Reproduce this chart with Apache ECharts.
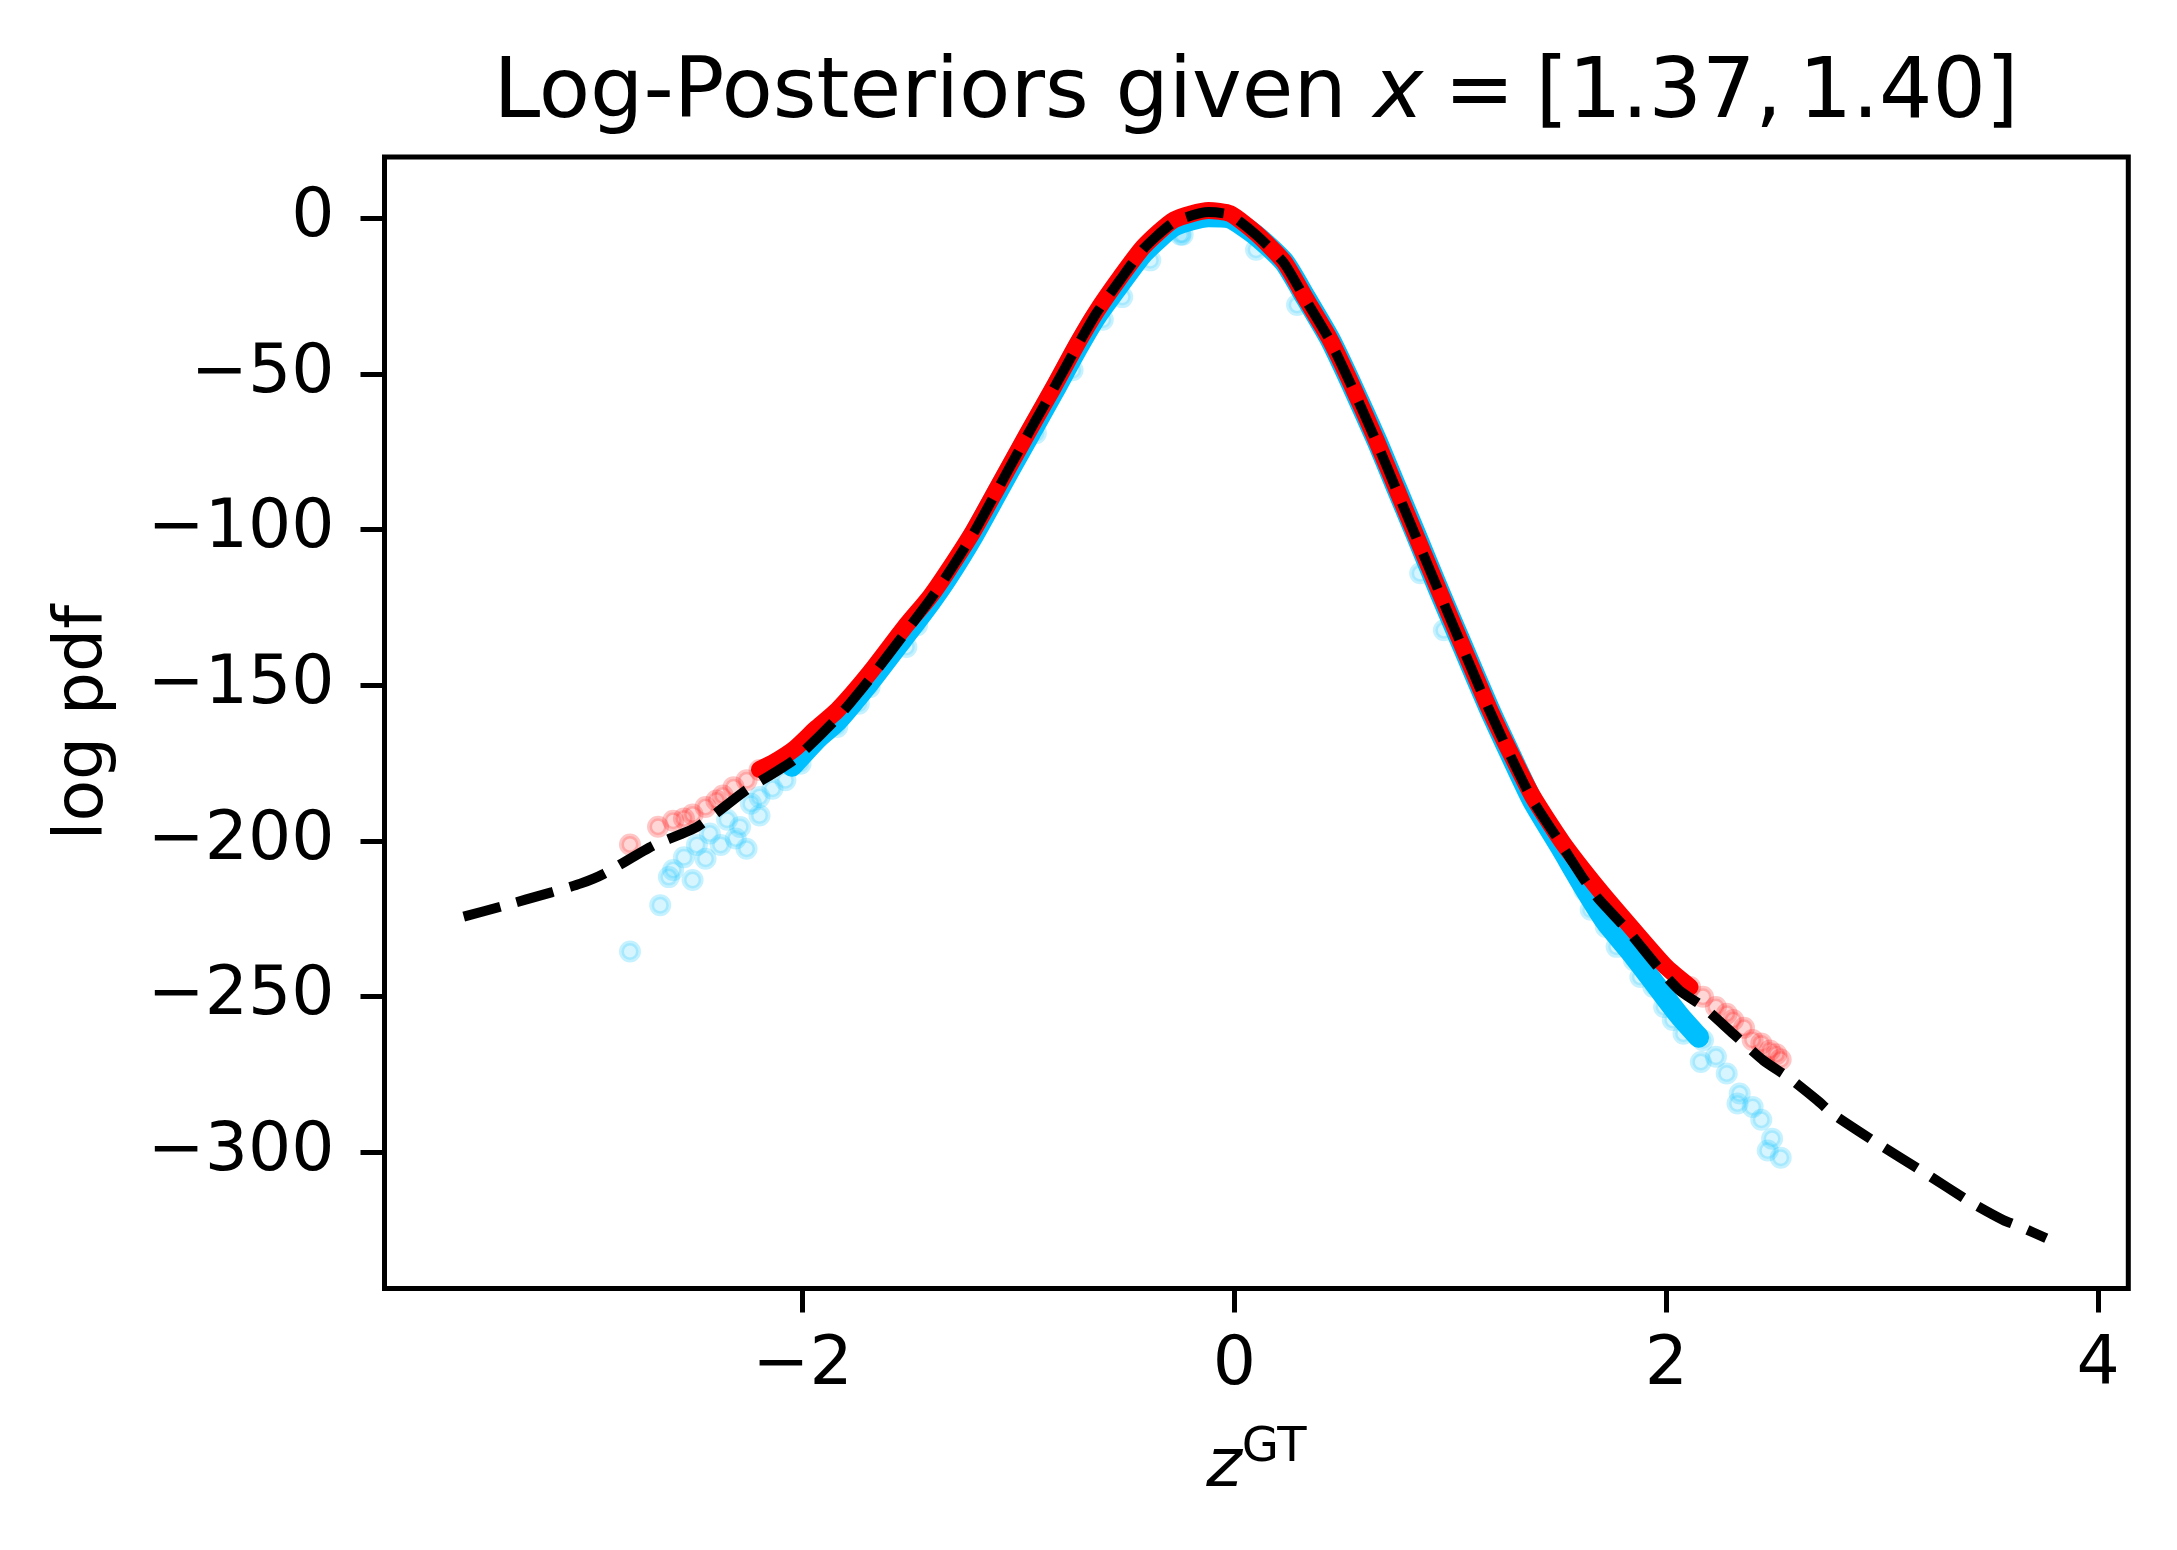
<!DOCTYPE html>
<html>
<head>
<meta charset="utf-8">
<title>Log-Posteriors</title>
<script src="https://cdn.jsdelivr.net/npm/echarts@6.0.0/dist/echarts.min.js"></script>
<style>
  html, body { margin: 0; padding: 0; background: #fff; }
  #chart { width: 2177px; height: 1550px; }
</style>
</head>
<body>
<div id="chart"></div>
<script>
// tick labels
const xTicks = [-2, 0, 2, 4];
const yTicks = [0, -50, -100, -150, -200, -250, -300];

// true log posterior (black dashed), [z, log pdf]
const truePosterior = [
  [-3.57, -224.3], [-3.40, -221.1], [-3.16, -216.4], [-3.03, -213.7], [-2.92, -210.5],
  [-2.69, -201.4], [-2.49, -195.5], [-2.26, -183.6], [-2.04, -173.9], [-1.84, -160.5],
  [-1.69, -148.0], [-1.53, -133.5], [-1.41, -122.5], [-1.33, -114.5], [-1.21, -101.3],
  [-1.09, -86.2], [-0.99, -73.5], [-0.93, -66.0], [-0.84, -55.0], [-0.73, -41.2],
  [-0.64, -30.5], [-0.53, -19.8], [-0.42, -9.7], [-0.28, -1.2], [-0.12, 2.0],
  [-0.02, 1.1], [0.10, -5.3], [0.23, -14.4], [0.33, -26.2], [0.44, -39.0],
  [0.54, -53.5], [0.66, -72.2], [0.75, -87.2], [0.84, -102.2], [0.95, -120.4],
  [1.06, -138.5], [1.18, -157.9], [1.28, -172.9], [1.38, -186.8], [1.51, -200.7],
  [1.62, -212.5], [1.69, -218.9], [1.82, -228.6], [1.96, -240.4], [2.06, -247.9],
  [2.17, -253.2], [2.31, -261.9], [2.45, -270.5], [2.57, -276.1], [2.70, -283.3],
  [2.77, -287.6], [2.98, -297.2], [3.19, -306.3], [3.41, -316.0], [3.56, -321.7],
  [3.64, -323.9], [3.76, -327.6]
];

// dense core of the approximate samples (blue), drawn as a band
const blueCore = [
  [-2.05, -176], [-1.93, -167], [-1.84, -161.5], [-1.69, -149], [-1.53, -134.5],
  [-1.41, -123.5], [-1.33, -115.5], [-1.21, -102], [-1.09, -87], [-0.99, -74.5],
  [-0.84, -56], [-0.73, -42], [-0.64, -31.5], [-0.53, -21], [-0.42, -11],
  [-0.28, -2.5], [-0.12, 0.5], [-0.02, 0], [0.10, -5.5], [0.23, -14],
  [0.33, -25.5], [0.44, -38.5], [0.54, -53], [0.66, -71.5], [0.75, -86.5],
  [0.84, -101.5], [0.95, -120], [1.06, -138], [1.18, -157.5], [1.28, -172.5],
  [1.38, -187], [1.51, -202], [1.62, -215], [1.72, -226], [1.85, -237],
  [1.96, -247], [2.06, -256], [2.15, -263]
];

// sparse approximate samples (blue rings)
const blueSamples = [
  [-2.80, -235.5], [-2.66, -220.6], [-2.60, -209.3], [-2.62, -211.6], [-2.51, -212.5],
  [-2.55, -205.2], [-2.45, -205.7], [-2.49, -201.3], [-2.43, -197.6], [-2.38, -201.3],
  [-2.31, -199.2], [-2.26, -202.5], [-2.35, -193.2], [-2.29, -195.5], [-2.24, -188.0],
  [-2.20, -191.8], [-2.20, -185.9], [-2.14, -183.2], [-2.08, -180.5], [-2.01, -175.2],
  [-1.84, -163.4], [-1.74, -155.9], [-1.69, -150.6], [-1.52, -137.7], [-1.47, -130.7],
  [-0.92, -69.0], [-0.75, -48.8], [-0.61, -32.6], [-0.52, -25.3], [-0.39, -13.5],
  [-0.25, -5.3], [-0.24, -5.3], [0.10, -10.1], [0.29, -27.8], [0.86, -114.0],
  [0.97, -132.3],
  [1.62, -215.7], [1.65, -222.1], [1.72, -227.6], [1.77, -234.0], [1.85, -238.3],
  [1.88, -243.7], [1.94, -246.9], [1.99, -253.3], [2.03, -257.5], [2.08, -261.9],
  [2.17, -264.0], [2.16, -271.0], [2.23, -269.3], [2.28, -274.7], [2.34, -281.1],
  [2.33, -284.3], [2.40, -285.4], [2.44, -289.5], [2.49, -295.6], [2.47, -299.4],
  [2.53, -301.7]
];

// dense core of the reference samples (red), drawn as a band
const redCore = [
  [-2.20, -177], [-2.14, -175], [-2.04, -170.5], [-1.94, -164], [-1.84, -158],
  [-1.69, -146], [-1.53, -131.5], [-1.41, -121.5], [-1.33, -113.5], [-1.21, -100.5],
  [-1.09, -85.5], [-0.99, -73], [-0.93, -65.5], [-0.84, -54.5], [-0.73, -40.5],
  [-0.64, -30], [-0.53, -19], [-0.42, -9], [-0.28, -0.5], [-0.12, 2.5],
  [-0.02, 1.5], [0.10, -4.8], [0.23, -14], [0.33, -25.8], [0.44, -38.6],
  [0.54, -53], [0.66, -71.8], [0.75, -86.8], [0.84, -101.8], [0.95, -120],
  [1.06, -138], [1.18, -157.5], [1.28, -172], [1.38, -185.5], [1.52, -200.5],
  [1.69, -215.7], [1.85, -228.7], [2.00, -240.5], [2.11, -246.9]
];

// sparse reference samples in the tails (red rings)
const redSamples = [
  [-2.80, -201.1], [-2.67, -195.4], [-2.60, -193.5], [-2.55, -192.8], [-2.51, -191.5],
  [-2.45, -189.1], [-2.40, -187.0], [-2.37, -185.4], [-2.32, -182.7], [-2.26, -180.5],
  [-2.20, -177.2],
  [2.11, -246.9], [2.17, -250.0], [2.23, -253.3], [2.28, -255.5], [2.31, -257.5],
  [2.36, -260.0], [2.40, -263.9], [2.44, -265.0], [2.48, -267.3], [2.51, -268.5],
  [2.53, -270.2]
];

const FONT = 'DejaVu Sans';
const minus = v => (v < 0 ? '\u2212' + (-v) : String(v));

const ring = c => ({
  color: 'rgba(' + c + ',0.2)',
  borderColor: 'rgba(' + c + ',0.28)',
  borderWidth: 5
});

const chart = echarts.init(document.getElementById('chart'), null, { renderer: 'canvas' });

chart.setOption({
  animation: false,
  backgroundColor: '#fff',
  title: {
    // math part uses tighter spacing, like mathtext
    text: '{a|Log-Posteriors given }{b|x}{a|\u2005=\u2005[1.37,\u20091.40]}',
    left: 1256,
    top: 53,
    padding: 0,
    textAlign: 'center',
    textStyle: {
      fontWeight: 'normal',
      rich: {
        a: { fontFamily: FONT, fontSize: 84, fontWeight: 'normal', color: '#000' },
        b: { fontFamily: FONT, fontSize: 84, fontWeight: 'normal', fontStyle: 'italic', color: '#000' }
      }
    }
  },
  grid: {
    left: 384.5,
    right: 48.7,
    top: 157,
    bottom: 261.6,
    show: true,
    borderColor: '#000',
    borderWidth: 5,
    backgroundColor: 'transparent'
  },
  xAxis: {
    type: 'value',
    min: -3.937,
    max: 4.14,
    axisLine: { show: false, onZero: false },
    splitLine: { show: false },
    axisTick: { show: true, length: 24, customValues: xTicks, lineStyle: { color: '#000', width: 5 } },
    axisLabel: {
      customValues: xTicks,
      formatter: minus,
      margin: 44,
      fontFamily: FONT,
      fontSize: 68,
      color: '#000'
    },
    name: '{z|z}{s|GT}',
    nameLocation: 'middle',
    nameGap: 136,
    nameTextStyle: {
      rich: {
        z: { fontFamily: FONT, fontSize: 68, fontStyle: 'italic', color: '#000', lineHeight: 88 },
        s: { fontFamily: FONT, fontSize: 48, color: '#000', lineHeight: 48, verticalAlign: 'top' }
      }
    }
  },
  yAxis: {
    type: 'value',
    min: -343.7,
    max: 19.7,
    axisLine: { show: false, onZero: false },
    splitLine: { show: false },
    axisTick: { show: true, length: 24, customValues: yTicks, lineStyle: { color: '#000', width: 5 } },
    axisLabel: {
      customValues: yTicks,
      formatter: minus,
      margin: 50,
      fontFamily: FONT,
      fontSize: 68,
      color: '#000'
    },
    name: 'log pdf',
    nameLocation: 'middle',
    nameRotate: 90,
    nameGap: 266,
    nameTextStyle: { fontFamily: FONT, fontSize: 68, color: '#000' }
  },
  series: [
    {
      name: 'approx samples',
      type: 'scatter',
      data: blueSamples,
      symbol: 'circle',
      symbolSize: 17,
      itemStyle: ring('0,191,255'),
      silent: true,
      z: 1
    },
    {
      name: 'approx core',
      type: 'line',
      data: blueCore,
      showSymbol: false,
      smooth: 0.2,
      lineStyle: { color: '#00bfff', width: 21, cap: 'round', join: 'round' },
      silent: true,
      z: 2
    },
    {
      name: 'reference core',
      type: 'line',
      data: redCore,
      showSymbol: false,
      smooth: 0.2,
      lineStyle: { color: '#ff0000', width: 17, cap: 'round', join: 'round' },
      silent: true,
      z: 3
    },
    {
      name: 'reference samples',
      type: 'scatter',
      data: redSamples,
      symbol: 'circle',
      symbolSize: 17,
      itemStyle: ring('255,0,0'),
      silent: true,
      z: 4
    },
    {
      name: 'true posterior',
      type: 'line',
      data: truePosterior,
      showSymbol: false,
      smooth: 0.2,
      lineStyle: { color: '#000', width: 10, type: [38, 17], cap: 'butt' },
      silent: true,
      z: 5
    }
  ]
});
</script>
</body>
</html>
